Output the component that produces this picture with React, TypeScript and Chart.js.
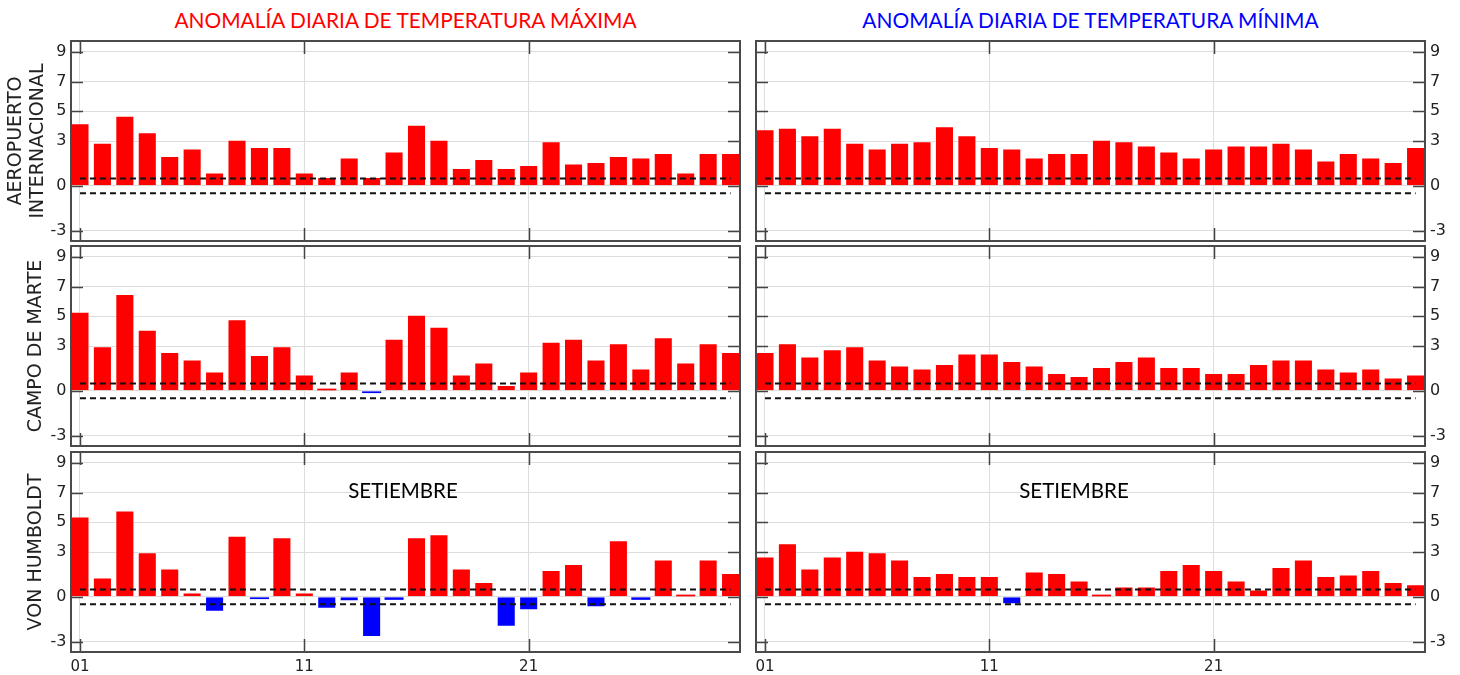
import React, { useEffect, useRef } from 'react';
import { Chart, registerables } from 'chart.js';

Chart.register(...registerables);

// ---------- DATA ----------
const days = [1, 2, 3, 4, 5, 6, 7, 8, 9, 10, 11, 12, 13, 14, 15, 16, 17, 18, 19, 20, 21, 22, 23, 24, 25, 26, 27, 28, 29, 30];
const xTickValues = [1, 11, 21];
const xTickLabels = ['01', '11', '21'];
const yTickValues = [-3, 0, 3, 5, 7, 9];
const upperThreshold = 0.5;
const lowerThreshold = -0.5;

const maxAeropuerto = [4.2, 2.9, 4.7, 3.6, 2.0, 2.5, 0.9, 3.1, 2.6, 2.6, 0.9, 0.6, 1.9, 0.6, 2.3, 4.1, 3.1, 1.2, 1.8, 1.2, 1.4, 3.0, 1.5, 1.6, 2.0, 1.9, 2.2, 0.9, 2.2, 2.2];
const minAeropuerto = [3.8, 3.9, 3.4, 3.9, 2.9, 2.5, 2.9, 3.0, 4.0, 3.4, 2.6, 2.5, 1.9, 2.2, 2.2, 3.1, 3.0, 2.7, 2.3, 1.9, 2.5, 2.7, 2.7, 2.9, 2.5, 1.7, 2.2, 1.9, 1.6, 2.6];
const maxCampoDeMarte = [5.3, 3.0, 6.5, 4.1, 2.6, 2.1, 1.3, 4.8, 2.4, 3.0, 1.1, 0.15, 1.3, -0.15, 3.5, 5.1, 4.3, 1.1, 1.9, 0.4, 1.3, 3.3, 3.5, 2.1, 3.2, 1.5, 3.6, 1.9, 3.2, 2.6];
const minCampoDeMarte = [2.6, 3.2, 2.3, 2.8, 3.0, 2.1, 1.7, 1.5, 1.8, 2.5, 2.5, 2.0, 1.7, 1.2, 1.0, 1.6, 2.0, 2.3, 1.6, 1.6, 1.2, 1.2, 1.8, 2.1, 2.1, 1.5, 1.3, 1.5, 0.9, 1.1];
const maxVonHumboldt = [5.4, 1.3, 5.8, 3.0, 1.9, 0.3, -1.0, 4.1, -0.15, 4.0, 0.3, -0.8, -0.3, -2.7, -0.2, 4.0, 4.2, 1.9, 1.0, -2.0, -0.9, 1.8, 2.2, -0.7, 3.8, -0.2, 2.5, 0.15, 2.5, 1.6];
const minVonHumboldt = [2.7, 3.6, 1.9, 2.7, 3.1, 3.0, 2.5, 1.4, 1.6, 1.4, 1.4, -0.5, 1.7, 1.6, 1.1, 0.15, 0.7, 0.7, 1.8, 2.2, 1.8, 1.1, 0.5, 2.0, 2.5, 1.4, 1.5, 1.8, 1.0, 0.85];

const stationLabels: (string | string[])[] = [['AEROPUERTO', 'INTERNACIONAL'], 'CAMPO DE MARTE', 'VON HUMBOLDT'];
const columnTitles = ['ANOMALÍA DIARIA DE TEMPERATURA MÁXIMA', 'ANOMALÍA DIARIA DE TEMPERATURA MÍNIMA'];
const monthLabel = 'SETIEMBRE';

// ---------- STYLE / LAYOUT ----------
const RED = '#ff0000';
const BLUE = '#0000ff';
const TEXT = '#222222';
const X_MIN = 0.6;
const X_MAX = 30.42;
const Y_MIN = -3.7;
const Y_MAX = 9.72;
const plotTops = [41, 246, 452];
const plotHeight = 200;
const colGeom = [
  { canvasLeft: 0, canvasWidth: 746, padLeft: 0, padRight: 6, axisWidth: 71, plotLeft: 71, plotWidth: 669 },
  { canvasLeft: 750, canvasWidth: 710, padLeft: 6, padRight: 0, axisWidth: 35, plotLeft: 756, plotWidth: 669 },
];
const titleColors = [RED, BLUE];
const monthCenters = [403, 1074];

const framePlugin = {
  id: 'panelFrame',
  beforeDatasetsDraw(chart: any) {
    const { ctx, chartArea: a, scales } = chart;
    const x = scales.x;
    const y = scales.y;
    ctx.save();
    ctx.strokeStyle = '#444444';
    ctx.lineWidth = 1.5;
    ctx.beginPath();
    yTickValues.forEach((v) => {
      const py = Math.round(y.getPixelForValue(v)) + 0.5;
      ctx.moveTo(a.left, py);
      ctx.lineTo(a.left + 12, py);
      ctx.moveTo(a.right, py);
      ctx.lineTo(a.right - 12, py);
    });
    xTickValues.forEach((v) => {
      const px = Math.round(x.getPixelForValue(v)) + 0.5;
      ctx.moveTo(px, a.top);
      ctx.lineTo(px, a.top + 13);
      ctx.moveTo(px, a.bottom);
      ctx.lineTo(px, a.bottom - 13);
    });
    ctx.stroke();
    ctx.restore();
  },
  afterDraw(chart: any) {
    const { ctx, chartArea: a } = chart;
    ctx.save();
    ctx.strokeStyle = '#4a4a4a';
    ctx.lineWidth = 2;
    ctx.strokeRect(a.left, a.top, a.right - a.left, a.bottom - a.top);
    ctx.restore();
  },
};

type PanelProps = { values: number[]; column: number; row: number };

function Panel({ values, column, row }: PanelProps) {
  const ref = useRef<HTMLCanvasElement | null>(null);
  const g = colGeom[column];
  const isBottom = row === 2;
  const canvasTop = plotTops[row] - 4;
  const canvasHeight = 4 + plotHeight + (isBottom ? 23 : 1);

  useEffect(() => {
    if (!ref.current) return;
    const label = stationLabels[row];
    const multi = Array.isArray(label);
    const chart = new Chart(ref.current, {
      type: 'bar',
      data: {
        datasets: [
          {
            type: 'line',
            data: days.map((d) => ({ x: d, y: upperThreshold })),
            borderColor: '#111111',
            borderWidth: 2,
            borderDash: [6, 4],
            pointRadius: 0,
            fill: false,
            order: 0,
          } as any,
          {
            type: 'line',
            data: days.map((d) => ({ x: d, y: lowerThreshold })),
            borderColor: '#111111',
            borderWidth: 2,
            borderDash: [6, 4],
            pointRadius: 0,
            fill: false,
            order: 0,
          } as any,
          {
            type: 'bar',
            data: days.map((d, i) => ({ x: d, y: values[i] })),
            backgroundColor: (c: any) => (c.raw && c.raw.y < 0 ? BLUE : RED),
            borderColor: 'rgba(255,255,255,0.35)',
            borderWidth: (c: any) => (c.raw && Math.abs(c.raw.y) < 0.3 ? 0 : 1),
            barPercentage: 0.85,
            categoryPercentage: 1,
            order: 1,
          } as any,
        ],
      },
      options: {
        animation: false,
        responsive: false,
        maintainAspectRatio: false,
        events: [],
        layout: { padding: { left: g.padLeft, right: g.padRight, top: 4, bottom: isBottom ? 0 : 1 } },
        plugins: { legend: { display: false }, tooltip: { enabled: false }, title: { display: false } },
        scales: {
          x: {
            type: 'linear',
            min: X_MIN,
            max: X_MAX,
            offset: false,
            z: 1,
            afterBuildTicks: (s: any) => {
              s.ticks = xTickValues.map((v) => ({ value: v }));
            },
            afterFit: (s: any) => {
              s.height = isBottom ? 23 : 0;
              s.paddingLeft = 0;
              s.paddingRight = 0;
              s.paddingTop = 0;
              s.paddingBottom = 0;
            },
            ticks: {
              display: isBottom,
              autoSkip: false,
              maxRotation: 0,
              padding: 6,
              color: TEXT,
              font: { family: 'DejaVu Sans', size: 15 },
              callback: (v: any) => {
                const i = xTickValues.indexOf(Number(v));
                return i >= 0 ? xTickLabels[i] : '';
              },
            },
            grid: { color: 'rgba(0,0,0,0.13)', lineWidth: 1, drawTicks: false, offset: false },
            border: { display: false },
          },
          y: {
            type: 'linear',
            position: column === 0 ? 'left' : 'right',
            min: Y_MIN,
            max: Y_MAX,
            afterBuildTicks: (s: any) => {
              s.ticks = yTickValues.map((v) => ({ value: v }));
            },
            afterFit: (s: any) => {
              s.width = g.axisWidth;
              s.paddingLeft = 0;
              s.paddingRight = 0;
              s.paddingTop = 0;
              s.paddingBottom = 0;
            },
            ticks: {
              autoSkip: false,
              padding: column === 0 ? 4.5 : 5,
              color: TEXT,
              font: { family: 'DejaVu Sans', size: 16 },
              callback: (v: any) => String(v),
            },
            grid: { color: '#dddddd', lineWidth: 1, drawTicks: false },
            border: { display: false },
            title: {
              display: column === 0,
              text: label as any,
              color: TEXT,
              font: { family: 'DejaVu Sans', size: 19, lineHeight: 1.16 },
              padding: { top: multi ? 5 : 25, bottom: 0 },
            },
          },
        },
      } as any,
      plugins: [framePlugin],
    });
    return () => chart.destroy();
  }, [values, column, row]);

  return (
    <canvas
      ref={ref}
      width={g.canvasWidth}
      height={canvasHeight}
      style={{ position: 'absolute', left: g.canvasLeft, top: canvasTop, width: g.canvasWidth, height: canvasHeight }}
    />
  );
}

const panelValues = [
  [maxAeropuerto, minAeropuerto],
  [maxCampoDeMarte, minCampoDeMarte],
  [maxVonHumboldt, minVonHumboldt],
];

export default function App() {
  return (
    <div style={{ position: 'absolute', left: 0, top: 0, width: 1460, height: 675, background: '#ffffff', overflow: 'hidden' }}>
      {columnTitles.map((t, c) => (
        <div
          key={'t' + c}
          style={{
            position: 'absolute',
            left: colGeom[c].plotLeft,
            width: colGeom[c].plotWidth,
            top: 6,
            height: 28,
            lineHeight: '28px',
            textAlign: 'center',
            color: titleColors[c],
            fontFamily: 'Lato, "Open Sans", sans-serif',
            fontSize: 20.9,
            whiteSpace: 'nowrap',
          }}
        >
          {t}
        </div>
      ))}
      {panelValues.map((pair, r) =>
        pair.map((vals, c) => <Panel key={r + '-' + c} values={vals} column={c} row={r} />)
      )}
      {monthCenters.map((cx, i) => (
        <div
          key={'m' + i}
          style={{
            position: 'absolute',
            left: cx - 100,
            width: 200,
            top: 476,
            height: 28,
            lineHeight: '28px',
            textAlign: 'center',
            color: '#000000',
            fontFamily: 'Lato, "Open Sans", sans-serif',
            fontSize: 20.5,
            whiteSpace: 'nowrap',
          }}
        >
          {monthLabel}
        </div>
      ))}
    </div>
  );
}
